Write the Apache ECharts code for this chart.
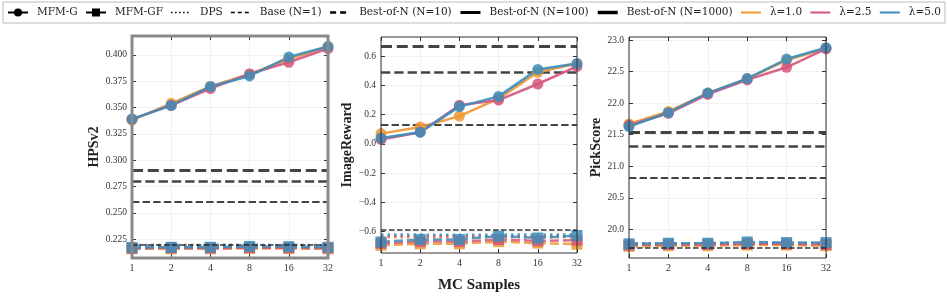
<!DOCTYPE html>
<html><head><meta charset="utf-8">
<script src="https://cdn.jsdelivr.net/npm/echarts@6/dist/echarts.min.js"></script>
<style>html,body{margin:0;padding:0;background:#fff}#c{width:947px;height:298px}</style>
</head><body><div id="c"></div><script>
// ---------- data ----------
const categories = ['1', '2', '4', '8', '16', '32'];
const lambdas = ['λ=1.0', 'λ=2.5', 'λ=5.0'];

// HPSv2
const hpsG_l1 = [0.338, 0.354, 0.370, 0.382, 0.396, 0.408];
const hpsG_l25 = [0.339, 0.352, 0.368, 0.382, 0.393, 0.406];
const hpsG_l5 = [0.339, 0.352, 0.370, 0.380, 0.398, 0.408];
const hpsGF_l1 = [0.2158, 0.2158, 0.2158, 0.2160, 0.2160, 0.2158];
const hpsGF_l25 = [0.2163, 0.2165, 0.2165, 0.2168, 0.2166, 0.2165];
const hpsGF_l5 = [0.2170, 0.2172, 0.2172, 0.2180, 0.2178, 0.2172];
const hpsDPS_l1 = [0.2183, 0.2183, 0.2184, 0.2184, 0.2183, 0.2183];
const hpsDPS_l25 = [0.2188, 0.2188, 0.2189, 0.2189, 0.2188, 0.2188];
const hpsDPS_l5 = [0.2194, 0.2194, 0.2195, 0.2195, 0.2194, 0.2194];
const hpsBase = 0.2168;
const hpsBest = [0.258, 0.280, 0.292]; // N=10, 100, 1000
const hpsTicks = [0.225, 0.250, 0.275, 0.300, 0.325, 0.350, 0.375, 0.400];

// ImageReward
const irG_l1 = [0.07, 0.115, 0.19, 0.31, 0.49, 0.55];
const irG_l25 = [0.03, 0.08, 0.265, 0.30, 0.41, 0.53];
const irG_l5 = [0.04, 0.08, 0.255, 0.325, 0.51, 0.55];
const irGF_l1 = [-0.695, -0.685, -0.685, -0.670, -0.680, -0.688];
const irGF_l25 = [-0.682, -0.670, -0.670, -0.655, -0.665, -0.660];
const irGF_l5 = [-0.672, -0.655, -0.655, -0.632, -0.645, -0.628];
const irDPS_l1 = [-0.640, -0.640, -0.641, -0.640, -0.640, -0.640];
const irDPS_l25 = [-0.633, -0.633, -0.633, -0.632, -0.633, -0.633];
const irDPS_l5 = [-0.622, -0.622, -0.623, -0.622, -0.622, -0.622];
const irBase = -0.590;
const irBest = [0.13, 0.49, 0.67];
const irTicks = [-0.6, -0.4, -0.2, 0.0, 0.2, 0.4, 0.6];

// PickScore
const psG_l1 = [21.67, 21.87, 22.16, 22.39, 22.68, 22.87];
const psG_l25 = [21.65, 21.84, 22.14, 22.37, 22.57, 22.86];
const psG_l5 = [21.63, 21.85, 22.16, 22.39, 22.70, 22.88];
const psGF_l1 = [19.73, 19.74, 19.74, 19.75, 19.75, 19.74];
const psGF_l25 = [19.75, 19.76, 19.76, 19.77, 19.77, 19.76];
const psGF_l5 = [19.77, 19.78, 19.78, 19.80, 19.79, 19.79];
const psDPS_l1 = [19.76, 19.76, 19.76, 19.76, 19.76, 19.76];
const psDPS_l25 = [19.77, 19.77, 19.77, 19.77, 19.77, 19.77];
const psDPS_l5 = [19.78, 19.78, 19.78, 19.78, 19.78, 19.78];
const psBase = 19.70;
const psBest = [20.82, 21.31, 21.54];
const psTicks = [20.0, 20.5, 21.0, 21.5, 22.0, 22.5, 23.0];

// ---------- styling / layout ----------
const FONT = 'Liberation Serif';
const LFONT = 'DejaVu Serif';
const colors = ['#f0962f', '#d6537a', '#3b8dba'];
const panels = [
  { name: 'HPSv2', min: 0.207, max: 0.418, ticks: hpsTicks, dec: 3,
    G: [hpsG_l1, hpsG_l25, hpsG_l5], GF: [hpsGF_l1, hpsGF_l25, hpsGF_l5], DPS: [hpsDPS_l1, hpsDPS_l25, hpsDPS_l5],
    base: hpsBase, best: hpsBest,
    grid: { left: 132, top: 36, width: 196, height: 222 }, border: '#8a8a8a', bw: 3, nameGap: 27 },
  { name: 'ImageReward', min: -0.748, max: 0.732, ticks: irTicks, dec: 1,
    G: [irG_l1, irG_l25, irG_l5], GF: [irGF_l1, irGF_l25, irGF_l5], DPS: [irDPS_l1, irDPS_l25, irDPS_l5],
    base: irBase, best: irBest,
    grid: { left: 381, top: 37, width: 196, height: 221 }, border: '#333', bw: 1, nameGap: 25 },
  { name: 'PickScore', min: 19.545, max: 23.05, ticks: psTicks, dec: 1,
    G: [psG_l1, psG_l25, psG_l5], GF: [psGF_l1, psGF_l25, psGF_l5], DPS: [psDPS_l1, psDPS_l25, psDPS_l5],
    base: psBase, best: psBest,
    grid: { left: 629, top: 37, width: 197, height: 221 }, border: '#333', bw: 1, nameGap: 22 }
];

const grid = [], xAxis = [], yAxis = [], series = [];
panels.forEach((p, i) => {
  grid.push(Object.assign({ show: true, borderColor: p.border, borderWidth: p.bw, backgroundColor: 'transparent', z: 10 }, p.grid));
  const tick = { show: true, inside: true, length: 4, lineStyle: { color: '#333', width: 1 } };
  xAxis.push({
    type: 'category', gridIndex: i, data: categories, boundaryGap: false,
    axisLine: { show: false, onZero: false }, axisTick: Object.assign({ alignWithLabel: true }, tick),
    axisLabel: { color: '#333', fontFamily: FONT, fontSize: 10, margin: 5 },
    splitLine: { show: true, lineStyle: { color: '#eeeeee', width: 0.8 } },
    name: i === 1 ? 'MC Samples' : '', nameLocation: 'middle', nameGap: 25,
    nameTextStyle: { fontFamily: FONT, fontSize: 15, fontWeight: 'bold', color: '#222' }
  });
  xAxis.push({
    type: 'category', gridIndex: i, data: categories, boundaryGap: false, position: 'top',
    axisLine: { show: false, onZero: false }, axisTick: tick, axisLabel: { show: false }, splitLine: { show: false }
  });
  yAxis.push({
    type: 'value', gridIndex: i, min: p.min, max: p.max,
    axisLine: { show: false, onZero: false },
    axisTick: Object.assign({ customValues: p.ticks }, tick),
    axisLabel: { customValues: p.ticks, color: '#333', fontFamily: FONT, fontSize: 9.5, margin: 5,
      formatter: v => v.toFixed(p.dec).replace('-', '\u2212') },
    splitLine: { show: true, lineStyle: { color: '#eeeeee', width: 0.8 } },
    name: p.name, nameLocation: 'middle', nameGap: p.nameGap,
    nameTextStyle: { fontFamily: FONT, fontSize: 14, fontWeight: 'bold', color: '#222' }
  });
  yAxis.push({
    type: 'value', gridIndex: i, min: p.min, max: p.max, position: 'right',
    axisLine: { show: false, onZero: false }, axisTick: Object.assign({ customValues: p.ticks }, tick),
    axisLabel: { show: false, customValues: p.ticks }, splitLine: { show: false }
  });
  const xi = i * 2, yi = i * 2;
  // reference horizontal lines (Base and Best-of-N)
  series.push({
    type: 'line', name: 'ref' + i, xAxisIndex: xi, yAxisIndex: yi, data: [], silent: true,
    markLine: {
      silent: true, symbol: 'none', label: { show: false }, animation: false,
      data: [
        { yAxis: p.base, lineStyle: { color: '#222', width: 1.5, type: [5.5, 2.5], opacity: 0.9 } },
        { yAxis: p.best[0], lineStyle: { color: '#444', width: 2, type: [7.4, 3.2], opacity: 1 } },
        { yAxis: p.best[1], lineStyle: { color: '#444', width: 2.5, type: [9.3, 4], opacity: 1 } },
        { yAxis: p.best[2], lineStyle: { color: '#444', width: 3, type: [11, 4.8], opacity: 1 } }
      ]
    }
  });
  for (let k = 0; k < 3; k++) {
    series.push({
      type: 'line', name: 'DPS ' + lambdas[k] + ' ' + i, xAxisIndex: xi, yAxisIndex: yi, data: p.DPS[k],
      symbol: 'none', lineStyle: { color: colors[k], width: 2.5, type: [2.5, 4], opacity: 0.85 }, z: 3
    });
  }
  for (let k = 0; k < 3; k++) {
    series.push({
      type: 'line', name: 'GF ' + lambdas[k] + ' ' + i, xAxisIndex: xi, yAxisIndex: yi, data: p.GF[k],
      symbol: 'rect', symbolSize: 11, itemStyle: { color: colors[k], opacity: 0.85 },
      lineStyle: { color: colors[k], width: 2.5, type: [9, 4], opacity: 0.85 }, z: 4
    });
  }
  for (let k = 0; k < 3; k++) {
    series.push({
      type: 'line', name: 'G ' + lambdas[k] + ' ' + i, xAxisIndex: xi, yAxisIndex: yi, data: p.G[k],
      symbol: 'circle', symbolSize: 11, itemStyle: { color: colors[k], opacity: 0.85 },
      lineStyle: { color: colors[k], width: 2.5, opacity: 0.9 }, z: 5
    });
  }
});

// legend-only series
const legendItems = [
  { name: 'MFM-G', symbol: 'circle', symbolSize: 8, color: '#000', width: 2, type: 'solid' },
  { name: 'MFM-GF', symbol: 'rect', symbolSize: 8, color: '#000', width: 2, type: 'solid' },
  { name: 'DPS', symbol: 'none', color: '#000', width: 1.5, type: [1.5, 2.5] },
  { name: 'Base (N=1)', symbol: 'none', color: '#000', width: 1.5, type: [4, 3] },
  { name: 'Best-of-N (N=10)', symbol: 'none', color: '#000', width: 2.5, type: [6, 4] },
  { name: 'Best-of-N (N=100)', symbol: 'none', color: '#000', width: 3, type: 'solid' },
  { name: 'Best-of-N (N=1000)', symbol: 'none', color: '#000', width: 3.5, type: 'solid' },
  { name: 'λ=1.0', symbol: 'none', color: colors[0], width: 2, type: 'solid' },
  { name: 'λ=2.5', symbol: 'none', color: colors[1], width: 2, type: 'solid' },
  { name: 'λ=5.0', symbol: 'none', color: colors[2], width: 2, type: 'solid' }
];
legendItems.forEach(it => {
  series.push({
    type: 'line', name: it.name, xAxisIndex: 0, yAxisIndex: 0, data: [],
    symbol: it.symbol === 'none' ? 'circle' : it.symbol, symbolSize: it.symbolSize || 4, itemStyle: { color: it.color },
    lineStyle: { color: it.color, width: it.width, type: it.type }
  });
});

const chart = echarts.init(document.getElementById('c'), null, { renderer: 'canvas' });
chart.setOption({
  animation: false,
  backgroundColor: '#fff',
  grid, xAxis, yAxis, series,
  legend: {
    data: legendItems.map(d => {
      const item = { name: d.name, lineStyle: { color: d.color, width: d.width, type: d.type } };
      if (d.symbol === 'none') item.itemStyle = { color: 'rgba(0,0,0,0)', borderWidth: 0 };
      return item;
    }),
    left: 3, top: 2, width: 945,
    padding: [5, 4, 5, 4], itemGap: 7.3, itemWidth: 20, itemHeight: 10,
    borderColor: '#bbb', borderWidth: 1, borderRadius: 0,
    selectedMode: false,
    textStyle: { fontFamily: LFONT, fontSize: 10.5, color: '#222', padding: [0, 0, 0, 4] }
  }
});
</script></body></html>
